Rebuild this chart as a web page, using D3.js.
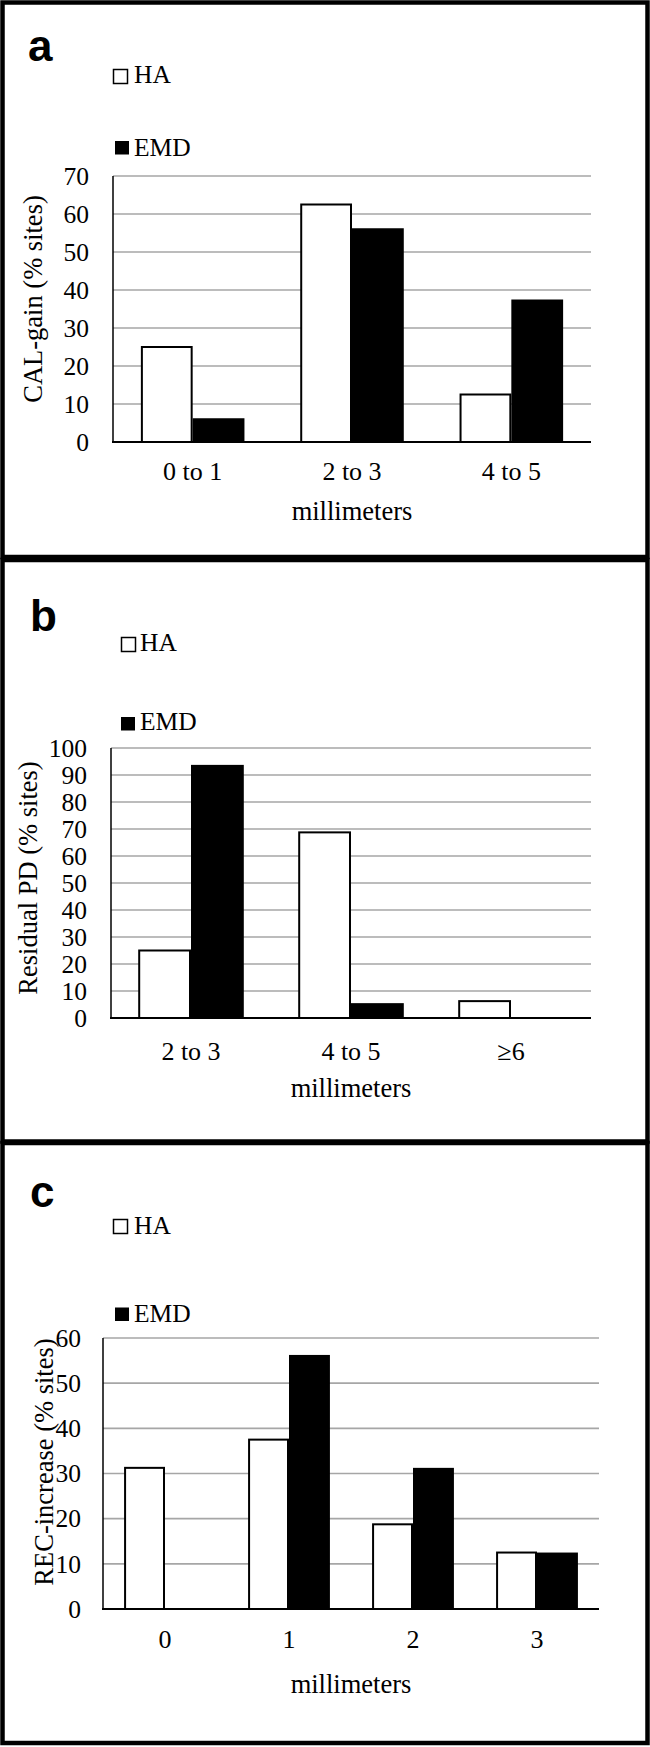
<!DOCTYPE html>
<html>
<head>
<meta charset="utf-8">
<script src="https://cdn.jsdelivr.net/npm/d3@7"></script>
<style>
  body { margin: 0; background: #fff; }
  svg { display: block; }
  .serif { font-family: "Liberation Serif", "Times New Roman", serif; }
</style>
</head>
<body>
<div id="chart"></div>
<script>
// data (% sites)
var seriesNames = ["HA", "EMD"];

var catsA = ["0 to 1", "2 to 3", "4 to 5"];
var haA = [25, 62.5, 12.5];
var emdA = [6.25, 56.25, 37.5];
var ticksA = [0, 10, 20, 30, 40, 50, 60, 70];

var catsB = ["2 to 3", "4 to 5", "\u22656"];
var haB = [25, 68.75, 6.25];
var emdB = [93.75, 5.5, 0];
var ticksB = [0, 10, 20, 30, 40, 50, 60, 70, 80, 90, 100];

var catsC = ["0", "1", "2", "3"];
var haC = [31.25, 37.5, 18.75, 12.5];
var emdC = [0, 56.25, 31.25, 12.5];
var ticksC = [0, 10, 20, 30, 40, 50, 60];

var width = 650, height = 1747;

var svg = d3.select("#chart")
  .append("svg")
  .attr("width", width)
  .attr("height", height);

svg.append("rect")
  .attr("width", width)
  .attr("height", height)
  .attr("fill", "#fff");

function drawPanel(p) {
    var g = svg.append("g");

    // frame
    g.append("rect")
      .attr("x", 2.5)
      .attr("y", p.top)
      .attr("width", 645)
      .attr("height", p.bottom - p.top)
      .attr("fill", "none")
      .attr("stroke", "#000")
      .attr("stroke-width", 4.5);

    g.append("text")
      .attr("x", p.letterX)
      .attr("y", p.letterY)
      .style("font-family", "'Liberation Sans', Arial, sans-serif")
      .style("font-weight", "bold")
      .style("font-size", "44px")
      .text(p.letter);

    var x = d3.scaleBand()
      .domain(p.cats)
      .range([p.x0, p.x1])
      .paddingInner(p.pad)
      .paddingOuter(p.pad / 2);

    var xs = d3.scaleBand()
      .domain(seriesNames)
      .range([0, x.bandwidth()]);

    var y = d3.scaleLinear()
      .domain([0, d3.max(p.ticks)])
      .range([p.y0, p.yTop]);

    // gridlines
    g.selectAll(".grid")
      .data(p.ticks.slice(1))
      .enter()
      .append("line")
      .attr("x1", p.x0)
      .attr("x2", p.x1)
      .attr("y1", function (d) { return y(d); })
      .attr("y2", function (d) { return y(d); })
      .attr("stroke", "#a6a6a6")
      .attr("stroke-width", 1.6);

    // tick labels
    g.selectAll(".tick")
      .data(p.ticks)
      .enter()
      .append("text")
      .attr("class", "serif")
      .attr("x", p.tickX)
      .attr("y", function (d) { return y(d); })
      .attr("dy", "0.34em")
      .attr("text-anchor", "end")
      .style("font-size", "25.5px")
      .text(function (d) { return d; });

    var rows = p.cats.map(function (c, i) {
        return { cat: c, values: [p.ha[i], p.emd[i]] };
    });

    var grp = g.selectAll(".grp")
      .data(rows)
      .enter()
      .append("g")
      .attr("transform", function (d) { return "translate(" + x(d.cat) + ",0)"; });

    grp.selectAll("rect")
      .data(function (d) {
          return d.values.map(function (v, k) { return { key: seriesNames[k], value: v }; });
      })
      .enter()
      .filter(function (d) { return d.value > 0; })
      .append("rect")
      .attr("x", function (d) { return xs(d.key) + (d.key == "HA" ? 1 : 0); })
      .attr("y", function (d) { return y(d.value); })
      .attr("width", function (d) { return xs.bandwidth() - (d.key == "HA" ? 2 : 0); })
      .attr("height", function (d) { return p.y0 - y(d.value); })
      .attr("fill", function (d) { return d.key == "HA" ? "#fff" : "#000"; })
      .attr("stroke", "#000")
      .attr("stroke-width", function (d) { return d.key == "HA" ? 2 : 0; });

    // axes lines
    g.append("line")
      .attr("x1", p.x0)
      .attr("x2", p.x0)
      .attr("y1", p.yTop)
      .attr("y2", p.y0)
      .attr("stroke", "#000")
      .attr("stroke-width", 1.5);

    g.append("line")
      .attr("x1", p.x0 - 1)
      .attr("x2", p.x1)
      .attr("y1", p.y0)
      .attr("y2", p.y0)
      .attr("stroke", "#000")
      .attr("stroke-width", 2);

    // category labels
    g.selectAll(".cat")
      .data(p.cats)
      .enter()
      .append("text")
      .attr("class", "serif")
      .attr("x", function (d) { return x(d) + x.bandwidth() / 2; })
      .attr("y", p.catY)
      .attr("text-anchor", "middle")
      .style("font-size", "26px")
      .text(function (d) { return d; });

    g.append("text")
      .attr("class", "serif")
      .attr("x", (p.x0 + p.x1) / 2)
      .attr("y", p.titleY)
      .attr("text-anchor", "middle")
      .style("font-size", "26.5px")
      .text("millimeters");

    g.append("text")
      .attr("class", "serif")
      .attr("transform", "translate(" + p.yTitleX + "," + p.yTitleY + ") rotate(-90)")
      .attr("text-anchor", "middle")
      .style("font-size", "26.5px")
      .text(p.yTitle);

    // legend
    var leg = g.selectAll(".leg")
      .data(p.legend)
      .enter()
      .append("g");

    leg.append("rect")
      .attr("x", function (d) { return d.sx; })
      .attr("y", function (d) { return d.sy; })
      .attr("width", 14)
      .attr("height", function (d, i) { return i == 0 ? 14 : 13.5; })
      .attr("fill", function (d, i) { return i == 0 ? "#fff" : "#000"; })
      .attr("stroke", "#000")
      .attr("stroke-width", function (d, i) { return i == 0 ? 1.5 : 0; });

    leg.append("text")
      .attr("class", "serif")
      .attr("x", function (d) { return d.tx; })
      .attr("y", function (d) { return d.ty; })
      .style("font-size", "25.5px")
      .text(function (d, i) { return seriesNames[i]; });
}

drawPanel({
    top: 2.5, bottom: 557, letter: "a", letterX: 28, letterY: 61,
    cats: catsA, ha: haA, emd: emdA, ticks: ticksA,
    x0: 113, x1: 591, y0: 442, yTop: 176, pad: 0.35,
    tickX: 89, catY: 480, titleY: 520,
    yTitle: "CAL-gain (% sites)", yTitleX: 41.5, yTitleY: 299,
    legend: [{ sx: 113.5, sy: 69.5, tx: 134, ty: 83 }, { sx: 115, sy: 141, tx: 134, ty: 156 }]
});

drawPanel({
    top: 560, bottom: 1141.5, letter: "b", letterX: 30, letterY: 631,
    cats: catsB, ha: haB, emd: emdB, ticks: ticksB,
    x0: 111, x1: 591, y0: 1018, yTop: 748, pad: 0.34,
    tickX: 87, catY: 1060, titleY: 1097,
    yTitle: "Residual PD (% sites)", yTitleX: 36.5, yTitleY: 878,
    legend: [{ sx: 121.5, sy: 637.5, tx: 140, ty: 651 }, { sx: 121, sy: 717, tx: 140, ty: 729.5 }]
});

drawPanel({
    top: 1143, bottom: 1743, letter: "c", letterX: 30, letterY: 1207,
    cats: catsC, ha: haC, emd: emdC, ticks: ticksC,
    x0: 103, x1: 599, y0: 1609, yTop: 1338, pad: 0.34,
    tickX: 81, catY: 1648, titleY: 1693,
    yTitle: "REC-increase (% sites)", yTitleX: 53, yTitleY: 1462,
    legend: [{ sx: 113.5, sy: 1219.5, tx: 134, ty: 1234 }, { sx: 115, sy: 1307.5, tx: 134, ty: 1321.5 }]
});
</script>
</body>
</html>
